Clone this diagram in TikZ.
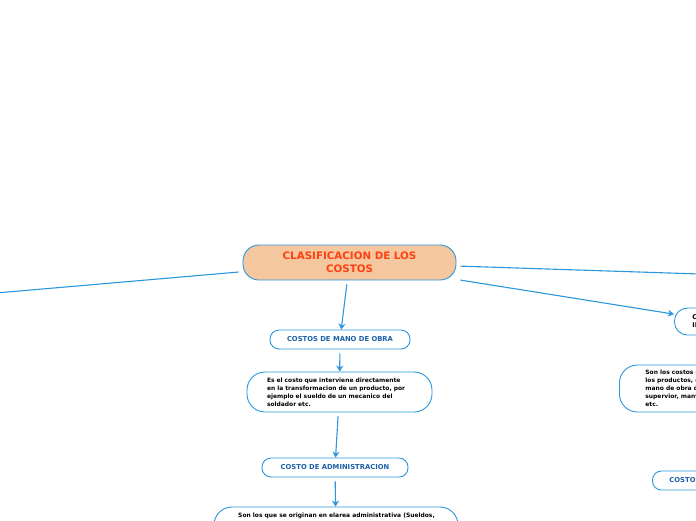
\documentclass[tikz,border=0pt]{standalone}
\usepackage{fontspec}
\setmainfont{DejaVu Sans}
\usetikzlibrary{arrows.meta}
\definecolor{lb}{HTML}{2B96DC}
\definecolor{peach}{HTML}{F5C79E}
\definecolor{titlered}{HTML}{FF4010}
\definecolor{nodeblue}{HTML}{1D5FA6}
\tikzset{
  box/.style={draw=lb, line width=0.9pt, fill=white, inner sep=0pt},
  smallbox/.style={box, rounded corners=9pt, minimum height=19pt,
    font=\bfseries\fontsize{6.8}{8}\selectfont, text=nodeblue},
  textbox/.style={box, rounded corners=18pt,
    font=\bfseries\fontsize{5.95}{8}\selectfont, align=left},
  conn/.style={draw=lb, line width=1.1pt, shorten <=4pt},
  arr/.style={conn, -{Stealth[length=6pt,width=7pt]}}
}
\begin{document}
\begin{tikzpicture}[x=1pt,y=-1pt]
\useasboundingbox (0,0) rectangle (696,520);
\clip (0,0) rectangle (696,520);

% central node
\node[box, fill=peach, rounded corners=16pt, minimum width=213pt, minimum height=35pt,
  font=\bfseries\fontsize{10.3}{13}\selectfont, text=titlered, align=center]
  (c) at (349.5,262.5) {CLASIFICACION DE LOS\\COSTOS};

% left/right branches leading off the page
\coordinate (offL) at (-100,301.3);
\coordinate (offR) at (800,277.3);

% middle column
\node[smallbox, minimum width=140pt] (m) at (340,339.5) {COSTOS DE MANO DE OBRA};
\node[textbox, minimum width=185pt, minimum height=40pt, text width=145pt]
  (t1) at (339.5,392) {Es el costo que interviene directamente\\en la transformacion de un producto, por\\ejemplo el sueldo de un mecanico del\\soldador etc.};
\node[smallbox, minimum width=146pt] (a) at (335,467.5) {COSTO DE ADMINISTRACION};
\node[box, rounded corners=18pt, minimum width=244pt, minimum height=60pt] (at) at (336,537) {};
\node[font=\bfseries\fontsize{5.95}{8}\selectfont, anchor=north, inner sep=0pt]
  (att) at (336.5,512.5) {Son los que se originan en elarea administrativa (Sueldos,};

% right column (cut by the page edge)
\node[box, rounded corners=13pt, minimum height=27pt, text width=56pt, inner xsep=18pt,
  align=left, font=\bfseries\fontsize{6.6}{8}\selectfont, anchor=west]
  (r1) at (674,321.5) {COSTOS\\INDIRECTOS};
\node[textbox, minimum height=47pt, inner xsep=26pt, anchor=west]
  (r2) at (619,388.5) {Son los costos empleados en\\los productos, como la\\mano de obra del\\supervior, mantenimiento\\etc.};
\node[smallbox, inner xsep=17pt, anchor=west] (r3) at (652,480.5) {COSTO DE VENTA};

% connectors
\draw[conn] (c) -- (offL);
\draw[conn] (c) -- (offR);
\draw[arr] (c) -- (r1);
\draw[arr] (c) -- (m);
\draw[arr] (m) -- (t1);
\draw[arr] (t1) -- (a);
\draw[arr] (a) -- (at);
\end{tikzpicture}
\end{document}
